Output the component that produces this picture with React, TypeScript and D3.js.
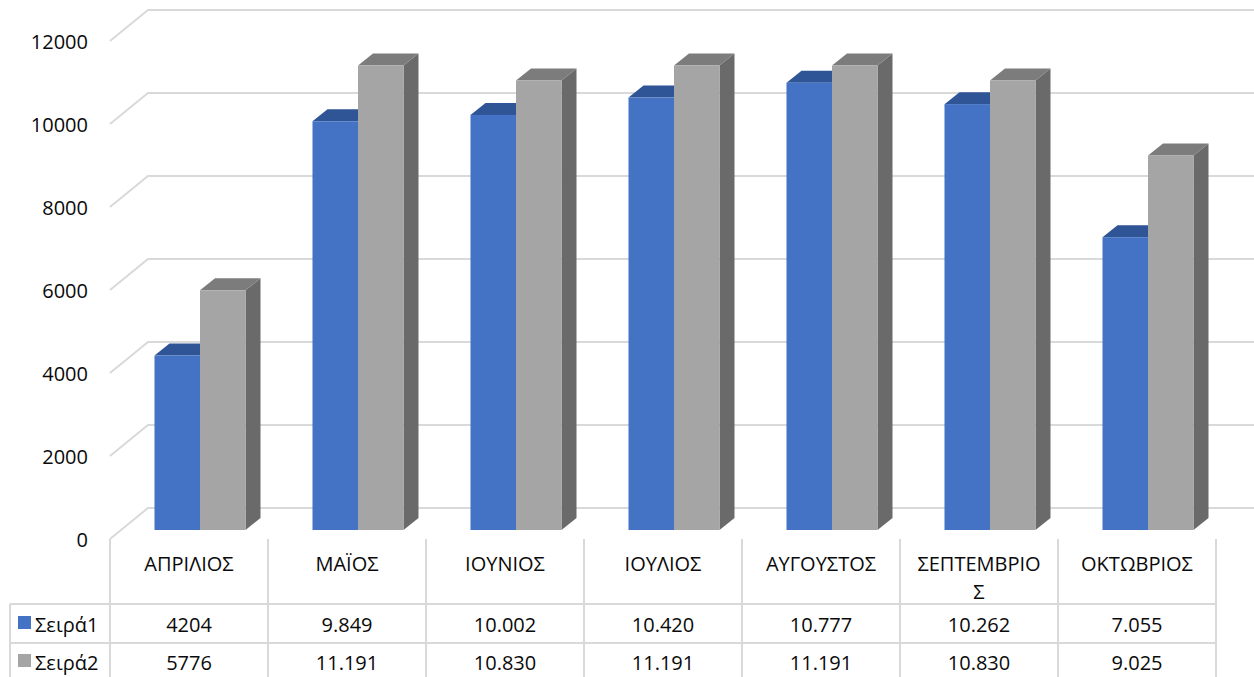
import React from "react";
import * as d3 from "d3";

const categories = ["ΑΠΡΙΛΙΟΣ", "ΜΑΪΟΣ", "ΙΟΥΝΙΟΣ", "ΙΟΥΛΙΟΣ", "ΑΥΓΟΥΣΤΟΣ", "ΣΕΠΤΕΜΒΡΙΟΣ", "ΟΚΤΩΒΡΙΟΣ"];
const seriesNames = ["Σειρά1", "Σειρά2"];
const series1 = [4204, 9849, 10002, 10420, 10777, 10262, 7055];
const series2 = [5776, 11191, 10830, 11191, 11191, 10830, 9025];
const series1Labels = ["4204", "9.849", "10.002", "10.420", "10.777", "10.262", "7.055"];
const series2Labels = ["5776", "11.191", "10.830", "11.191", "11.191", "10.830", "9.025"];
const yTicks = [0, 2000, 4000, 6000, 8000, 10000, 12000];

const W = 1254;
const H = 677;
const FONT = "'Open Sans', 'Noto Sans', sans-serif";
const FS = 20;
const TEXT = "#0a0a0a";

const colors = [
  { front: "#4472C4", top: "#2F5597", side: "#2E4F8A" },
  { front: "#A5A5A5", top: "#7C7C7C", side: "#6A6A6A" },
];

function wrapLabel(s: string, maxChars: number): string[] {
  const out: string[] = [];
  for (let i = 0; i < s.length; i += maxChars) out.push(s.slice(i, i + maxChars));
  return out;
}

export default function App() {
  const plotLeft = 110;
  const plotRight = 1216;
  const wallDX = 38, wallDY = 31;
  const barDX = 11, barDY = 9;
  const depthDX = 15, depthDY = 12;

  const y = d3.scaleLinear().domain([0, 12000]).range([539, 41]);
  const x = d3.scaleBand<string>().domain(categories).range([plotLeft, plotRight]).padding(0);
  const inner = d3.scaleBand<string>().domain(seriesNames).range([0, x.bandwidth()]).paddingInner(0).paddingOuter(0.736);
  const seriesData = [series1, series2];
  const seriesLabels = [series1Labels, series2Labels];

  const rowTops = [604, 643];
  const rowCenters = [624, 662];

  return (
    <svg width={W} height={H} style={{ position: "absolute", left: 0, top: 0, background: "#fff" }} fontFamily={FONT}>
      <rect width={W} height={H} fill="#fff" />
      {yTicks.map((t) => {
        const yy = y(t);
        return (
          <path key={t} d={`M${plotLeft},${yy} L${plotLeft + wallDX},${yy - wallDY} L${W},${yy - wallDY}`} fill="none" stroke="#D9D9D9" strokeWidth={2} />
        );
      })}
      {yTicks.map((t) => (
        <text key={t} x={88} y={y(t)} textAnchor="end" dominantBaseline="central" fontSize={FS} fill={TEXT}>
          {t}
        </text>
      ))}
      {categories.map((c, i) => (
        <g key={c}>
          {seriesNames.map((s, k) => {
            const v = seriesData[k][i];
            const x0 = (x(c) as number) + (inner(s) as number) + barDX;
            const w = inner.bandwidth();
            const y0 = y(0) - barDY;
            const yt = y(v) - barDY;
            const col = colors[k];
            return (
              <g key={s}>
                <path d={`M${x0 + w},${yt} L${x0 + w + depthDX},${yt - depthDY} L${x0 + w + depthDX},${y0 - depthDY} L${x0 + w},${y0} Z`} fill={col.side} />
                <path d={`M${x0},${yt} L${x0 + depthDX},${yt - depthDY} L${x0 + w + depthDX},${yt - depthDY} L${x0 + w},${yt} Z`} fill={col.top} />
                <rect x={x0} y={yt} width={w} height={y0 - yt} fill={col.front} />
              </g>
            );
          })}
        </g>
      ))}
      {[...categories.map((c) => x(c) as number), plotRight].map((xx, i) => (
        <line key={i} x1={xx} x2={xx} y1={539} y2={H} stroke="#D9D9D9" strokeWidth={2} />
      ))}
      <line x1={10} x2={10} y1={rowTops[0]} y2={H} stroke="#D9D9D9" strokeWidth={2} />
      {rowTops.map((r) => (
        <line key={r} x1={10} x2={plotRight} y1={r} y2={r} stroke="#D9D9D9" strokeWidth={2} />
      ))}
      {categories.map((c) => {
        const lines = wrapLabel(c, 10);
        return (
          <text key={c} x={(x(c) as number) + x.bandwidth() / 2} textAnchor="middle" fontSize={FS} fill={TEXT}>
            {lines.map((ln, j) => (
              <tspan key={j} x={(x(c) as number) + x.bandwidth() / 2} y={563 + j * 28} dominantBaseline="central">
                {ln}
              </tspan>
            ))}
          </text>
        );
      })}
      {seriesNames.map((s, k) => (
        <g key={s}>
          <rect x={18} y={rowCenters[k] - 8} width={13} height={13} fill={colors[k].front} />
          <text x={35} y={rowCenters[k]} dominantBaseline="central" fontSize={FS} fill={TEXT}>
            {s}
          </text>
          {categories.map((c, i) => (
            <text key={c} x={(x(c) as number) + x.bandwidth() / 2} y={rowCenters[k]} textAnchor="middle" dominantBaseline="central" fontSize={FS} fill={TEXT}>
              {seriesLabels[k][i]}
            </text>
          ))}
        </g>
      ))}
    </svg>
  );
}
